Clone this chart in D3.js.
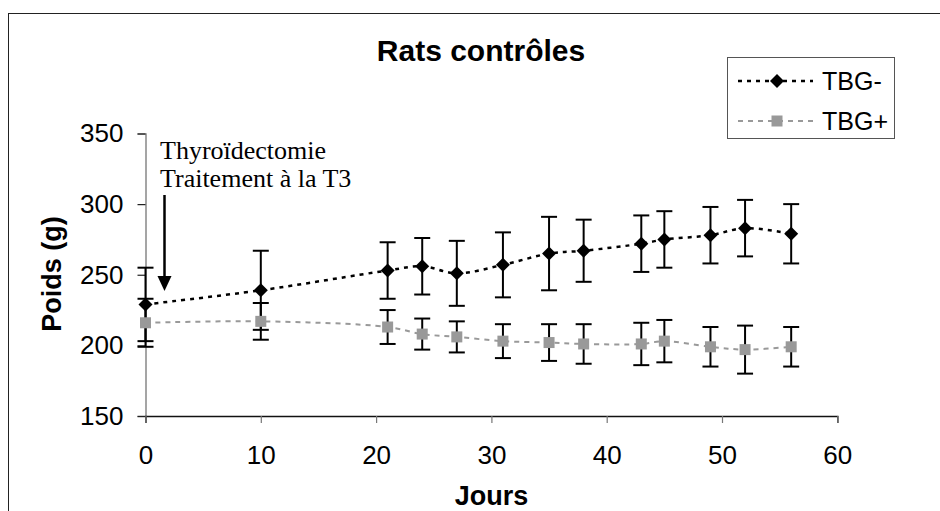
<!DOCTYPE html>
<html>
<head>
<meta charset="utf-8">
<script src="https://cdn.jsdelivr.net/npm/d3@7"></script>
<style>
  body { margin: 0; background: #fff; }
  svg { display: block; font-family: "Liberation Sans", Arial, sans-serif; }
</style>
</head>
<body>
<svg width="940" height="511"></svg>
<script>
// data
var days = [0, 10, 21, 24, 27, 31, 35, 38, 43, 45, 49, 52, 56];
var tbgMinus = [229, 239, 253, 256, 251, 257, 265, 267, 272, 275, 278, 283, 279];
var tbgMinusErr = [26, 28, 20, 20, 23, 23, 26, 22, 20, 20, 20, 20, 21];
var tbgPlus = [216, 217, 213, 208, 206, 203, 202, 201, 201, 203, 199, 197, 199];
var tbgPlusErr = [17, 13, 12, 11, 11, 12, 13, 14, 15, 15, 14, 17, 14];
var xTicks = [0, 10, 20, 30, 40, 50, 60];
var yTicks = [150, 200, 250, 300, 350];
var seriesNames = ["TBG-", "TBG+"];
var noteLines = ["Thyroïdectomie", "Traitement à la T3"];

var svg = d3.select("svg");

// outer chart frame (runs off the right and bottom edges)
svg.append("rect")
    .attr("x", 8.5).attr("y", 13.5)
    .attr("width", 1000).attr("height", 600)
    .attr("fill", "none").attr("stroke", "#222").attr("stroke-width", 1);

var x = d3.scaleLinear().domain([0, 60]).range([145.5, 837.3]);
var y = d3.scaleLinear().domain([150, 350]).range([416, 133.5]);

// y axis
var yAxis = svg.append("g")
    .attr("transform", "translate(145.5,0)")
    .call(d3.axisLeft(y).tickValues(yTicks).tickSize(8).tickPadding(14));
yAxis.select(".domain").attr("stroke", "#888").attr("stroke-width", 1.5);
yAxis.selectAll(".tick line").attr("stroke", "#222").attr("stroke-width", 1.2);
yAxis.selectAll("text").attr("font-size", 26).attr("fill", "#000")
    .attr("font-family", "Liberation Sans, Arial, sans-serif");

// x axis
var xAxis = svg.append("g")
    .attr("transform", "translate(0,416)")
    .call(d3.axisBottom(x).tickValues(xTicks).tickSize(7).tickPadding(23));
xAxis.select(".domain").attr("stroke", "#111").attr("stroke-width", 1.5);
xAxis.selectAll(".tick line").attr("stroke", "#777").attr("stroke-width", 1.2);
xAxis.selectAll("text").attr("font-size", 26).attr("fill", "#000")
    .attr("font-family", "Liberation Sans, Arial, sans-serif");

// titles
svg.append("text")
    .attr("x", 481).attr("y", 61)
    .attr("text-anchor", "middle")
    .attr("font-size", 30).attr("font-weight", "bold")
    .text("Rats contrôles");

svg.append("text")
    .attr("x", 491.5).attr("y", 505)
    .attr("text-anchor", "middle")
    .attr("font-size", 27).attr("font-weight", "bold")
    .text("Jours");

svg.append("text")
    .attr("transform", "translate(61,274) rotate(-90)")
    .attr("text-anchor", "middle")
    .attr("font-size", 27).attr("font-weight", "bold")
    .text("Poids (g)");

var series = [
    { name: seriesNames[0], values: tbgMinus, err: tbgMinusErr, color: "#000", width: 2.5, dash: "4,5", marker: "diamond" },
    { name: seriesNames[1], values: tbgPlus, err: tbgPlusErr, color: "#999", width: 2, dash: "5,5", marker: "square" }
];

var line = d3.line()
    .x(function(d) { return x(d[0]); })
    .y(function(d) { return y(d[1]); })
    .curve(d3.curveCatmullRom.alpha(0.5));

// lines
series.forEach(function(s) {
    var pts = days.map(function(d, i) { return [d, s.values[i]]; });
    svg.append("path")
        .datum(pts)
        .attr("d", line)
        .attr("fill", "none")
        .attr("stroke", s.color)
        .attr("stroke-width", s.width)
        .attr("stroke-dasharray", s.dash);
});

// error bars
series.forEach(function(s) {
    var g = svg.append("g").attr("stroke", "#000").attr("stroke-width", 2);
    days.forEach(function(d, i) {
        var cx = x(d), top = y(s.values[i] + s.err[i]), bot = y(s.values[i] - s.err[i]);
        g.append("line").attr("x1", cx).attr("x2", cx).attr("y1", top).attr("y2", bot);
        g.append("line").attr("x1", cx - 8).attr("x2", cx + 8).attr("y1", top).attr("y2", top);
        g.append("line").attr("x1", cx - 8).attr("x2", cx + 8).attr("y1", bot).attr("y2", bot);
    });
});

function drawMarker(g, kind, cx, cy) {
    if (kind == "diamond") {
        g.append("path")
            .attr("d", "M" + cx + "," + (cy - 7) + "L" + (cx + 7) + "," + cy + "L" + cx + "," + (cy + 7) + "L" + (cx - 7) + "," + cy + "Z")
            .attr("fill", "#000");
    } else {
        g.append("rect")
            .attr("x", cx - 5.5).attr("y", cy - 5.5)
            .attr("width", 11).attr("height", 11)
            .attr("fill", "#999");
    }
}

// markers
series.forEach(function(s) {
    var g = svg.append("g");
    days.forEach(function(d, i) {
        drawMarker(g, s.marker, x(d), y(s.values[i]));
    });
});

// annotation and arrow
var note = svg.append("text")
    .attr("font-family", "Liberation Serif, 'Times New Roman', serif")
    .attr("font-size", 26);
noteLines.forEach(function(t, i) {
    note.append("tspan").attr("x", 160).attr("y", 159 + i * 28).text(t);
});
svg.append("line")
    .attr("x1", 164.5).attr("x2", 164.5).attr("y1", 195).attr("y2", 278)
    .attr("stroke", "#000").attr("stroke-width", 2.5);
svg.append("path")
    .attr("d", "M157.5,276L171.5,276L164.5,291Z")
    .attr("fill", "#000");

// legend
var legend = svg.append("g");
legend.append("rect")
    .attr("x", 727.5).attr("y", 57.5)
    .attr("width", 167).attr("height", 81)
    .attr("fill", "#fff").attr("stroke", "#555").attr("stroke-width", 1);
series.forEach(function(s, i) {
    var ly = 81 + i * 40;
    legend.append("line")
        .attr("x1", 738).attr("x2", 813).attr("y1", ly).attr("y2", ly)
        .attr("stroke", s.color).attr("stroke-width", s.width)
        .attr("stroke-dasharray", s.dash);
    drawMarker(legend, s.marker, 777, ly);
    legend.append("text")
        .attr("x", 822).attr("y", ly + 9)
        .attr("font-size", 25)
        .text(s.name);
});
</script>
</body>
</html>
